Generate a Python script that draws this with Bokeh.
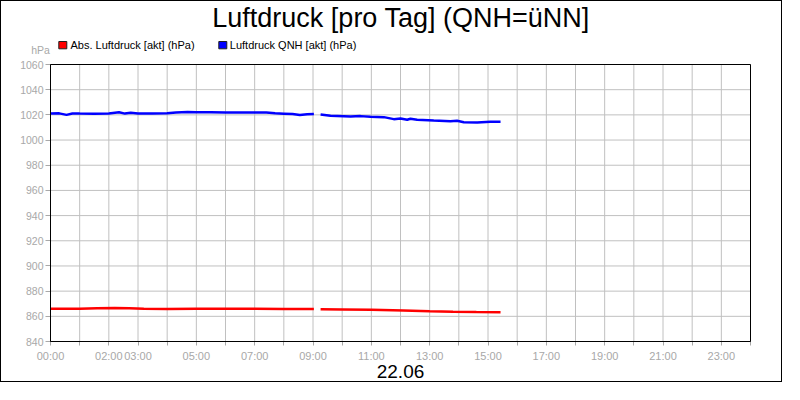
from bokeh.plotting import figure
from bokeh.models import Label, BoxAnnotation, FixedTicker, Range1d
from bokeh.embed import file_html
from bokeh.resources import INLINE

# ---- data (hours of day 22.06, pressure in hPa) ----
blue_morning_hours = [0.0, 0.3, 0.55, 0.75, 1.0, 1.5, 2.0, 2.35, 2.55, 2.75, 3.0, 3.5,
                      4.0, 4.3, 4.7, 5.0, 5.5, 6.0, 6.5, 7.0, 7.4, 7.7, 8.0, 8.3, 8.55, 8.8, 9.03]
blue_morning_values = [1021.0, 1021.2, 1020.0, 1021.1, 1021.0, 1020.9, 1021.1, 1022.0, 1021.0,
                       1021.6, 1021.0, 1021.0, 1021.2, 1021.8, 1022.2, 1022.1, 1022.0, 1021.9,
                       1021.9, 1021.9, 1021.8, 1021.2, 1020.9, 1020.6, 1019.9, 1020.4, 1020.6]
blue_afternoon_hours = [9.26, 9.6, 10.29, 10.63, 10.97, 11.43, 11.77, 12.0, 12.23, 12.34,
                        12.57, 13.14, 13.71, 13.94, 14.17, 14.63, 15.08, 15.43]
blue_afternoon_values = [1020.3, 1019.3, 1018.7, 1019.0, 1018.5, 1018.2, 1016.6, 1017.1, 1016.1,
                         1016.9, 1016.1, 1015.5, 1015.0, 1015.3, 1014.2, 1014.0, 1014.5, 1014.5]

red_morning_hours = [0.0, 0.5, 1.0, 1.6, 2.2, 2.7, 3.2, 4.0, 5.0, 6.0, 7.0, 8.0, 9.03]
red_morning_values = [866.0, 866.0, 866.0, 866.5, 866.6, 866.4, 866.0, 865.9, 866.0, 866.0,
                      866.0, 865.9, 865.8]
red_afternoon_hours = [9.26, 10.0, 11.0, 12.1, 13.0, 13.8, 14.6, 15.43]
red_afternoon_values = [865.7, 865.5, 865.2, 864.6, 864.1, 863.7, 863.4, 863.2]

hour_ticks = list(range(0, 25))
x_label_hours = [0, 2, 3, 5, 7, 9, 11, 13, 15, 17, 19, 21, 23]
x_label_texts = ["00:00", "02:00", "03:00", "05:00", "07:00", "09:00", "11:00",
                 "13:00", "15:00", "17:00", "19:00", "21:00", "23:00"]
y_ticks = list(range(840, 1061, 20))
x_min, x_max = 0, 24
y_min, y_max = 840, 1060

title_text = "Luftdruck [pro Tag] (QNH=üNN]"
date_text = "22.06"
unit_text = "hPa"
series_names = ["Abs. Luftdruck [akt] (hPa)", "Luftdruck QNH [akt] (hPa)"]
series_colors = ["#ff0000", "#0000ff"]

# ---- layout (canvas pixels, from top-left of the drawing area) ----
W, H = 782, 382
PLOT_L, PLOT_R, PLOT_T, PLOT_B = 49, 749, 63, 340
FONT = "Liberation Sans"
GRAY = "#a8a8a8"
GRID = "#c0c0c0"

ppx = (PLOT_R - PLOT_L) / (x_max - x_min)
ppy = (PLOT_B - PLOT_T) / (y_max - y_min)
x_range = Range1d(x_min - PLOT_L / ppx, x_max + (W - PLOT_R) / ppx)
y_range = Range1d(y_min - (H - PLOT_B) / ppy, y_max + PLOT_T / ppy)

p = figure(width=W, height=H, x_range=x_range, y_range=y_range, title=None,
           output_backend="svg", toolbar_location=None, min_border=0,
           styles={"border": "1px solid black"})
p.background_fill_color = "white"
p.border_fill_color = "white"
p.outline_line_color = None
p.xgrid.visible = False
p.ygrid.visible = False

# grid lines inside the plot area, from the tick arrays
p.segment(x0=hour_ticks, y0=[y_min] * len(hour_ticks), x1=hour_ticks, y1=[y_max] * len(hour_ticks),
          line_color=GRID, line_width=1, level="underlay")
p.segment(x0=[x_min] * len(y_ticks), y0=y_ticks, x1=[x_max] * len(y_ticks), y1=y_ticks,
          line_color=GRID, line_width=1, level="underlay")

# axes at the plot-area edges
xa = p.xaxis[0]
xa.fixed_location = y_min
xa.bounds = (x_min, x_max)
xa.ticker = FixedTicker(ticks=hour_ticks)
overrides = {h: "" for h in hour_ticks}
for h, t in zip(x_label_hours, x_label_texts):
    overrides[h] = t
xa.major_label_overrides = overrides
xa.major_tick_in = 0
xa.major_tick_out = 4
xa.minor_tick_line_color = None
xa.major_label_standoff = 4
xa.major_label_text_color = GRAY
xa.major_label_text_font = FONT
xa.major_label_text_font_size = "11px"
xa.axis_line_color = "black"
xa.major_tick_line_color = GRAY

ya = p.yaxis[0]
ya.fixed_location = x_min
ya.bounds = (y_min, y_max)
ya.ticker = FixedTicker(ticks=y_ticks)
ya.major_tick_in = 0
ya.major_tick_out = 5
ya.minor_tick_line_color = None
ya.major_label_standoff = 2
ya.major_label_text_color = GRAY
ya.major_label_text_font = FONT
ya.major_label_text_font_size = "10.5px"
ya.axis_line_color = "black"
ya.major_tick_line_color = GRAY

# frame of the plot area
p.add_layout(BoxAnnotation(left=x_min, right=x_max, bottom=y_min, top=y_max,
                           fill_color=None, line_color="black", line_width=1, line_alpha=1,
                           level="overlay"))

# lines
p.line(red_morning_hours, red_morning_values, line_color=series_colors[0], line_width=2.5)
p.line(red_afternoon_hours, red_afternoon_values, line_color=series_colors[0], line_width=2.5)
p.line(blue_morning_hours, blue_morning_values, line_color=series_colors[1], line_width=2.5)
p.line(blue_afternoon_hours, blue_afternoon_values, line_color=series_colors[1], line_width=2.5)

BASELINE_FIX = 0.347  # observed offset of the rendered baseline, in em


def text(cx, cy, s, size, color="black", align="left"):
    p.add_layout(Label(x=cx, y=H - cy + BASELINE_FIX * size, x_units="screen", y_units="screen",
                       text=s, text_align=align, text_baseline="alphabetic", text_font=FONT,
                       text_font_size=f"{size}px", text_color=color))


text(399.5, 25.7, title_text, 27, align="center")
text(399, 376.5, date_text, 19, align="center")
text(29.7, 52.3, unit_text, 10.5, color=GRAY)

legend_text_x = [69, 228.3]
legend_box_left = [57.3, 217.3]
for name, col, tx, bx in zip(series_names, series_colors, legend_text_x, legend_box_left):
    p.add_layout(BoxAnnotation(left=bx, right=bx + 8, top=H - 40, bottom=H - 47.3,
                               left_units="screen", right_units="screen",
                               bottom_units="screen", top_units="screen",
                               fill_color=col, fill_alpha=1, line_color="#202020",
                               line_width=1, line_alpha=1, level="overlay"))
    text(tx, 47.3, name, 11)

open("out.html", "w").write(file_html(p, INLINE))
